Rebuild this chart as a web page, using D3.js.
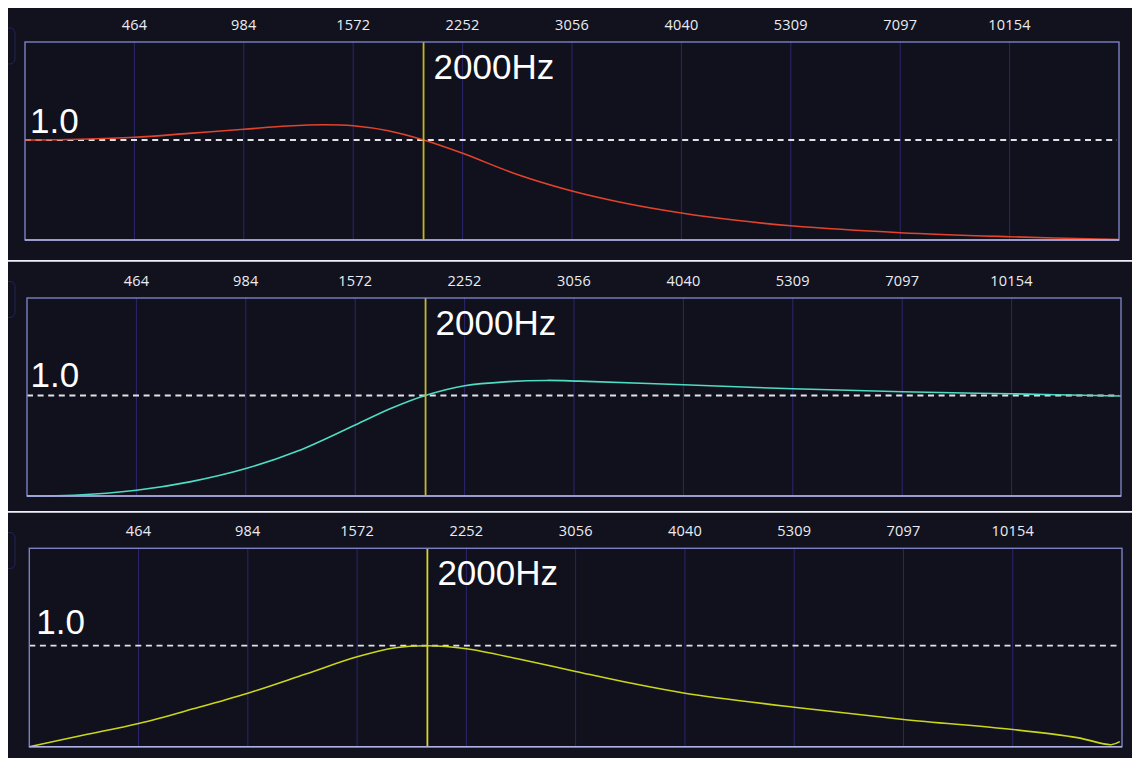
<!DOCTYPE html>
<html>
<head>
<meta charset="utf-8">
<script src="https://cdn.jsdelivr.net/npm/d3@7"></script>
<style>
  html, body { margin: 0; padding: 0; background: #ffffff; }
  svg { display: block; }
</style>
</head>
<body>
<svg id="chart" width="1132" height="758"></svg>
<script>
// ---------- data ----------
const tickLabels = ["464", "984", "1572", "2252", "3056", "4040", "5309", "7097", "10154"];
const tickFreqs  = [464, 984, 1572, 2252, 3056, 4040, 5309, 7097, 10154];
const markerHz   = 2000;
const markerLabel = "2000Hz";
const refValue   = 1.0;
const refLabel   = "1.0";

// positions are in tick-index units (0 = left edge, 1..9 = ticks, 10 = right edge)
const redPos = [0, 0.5, 1, 1.5, 2, 2.4, 2.73, 3, 3.32, 3.645, 4, 4.5, 5, 5.5, 6, 6.5, 7, 8, 9, 10];
const redVal = [1.0, 1.008, 1.027, 1.066, 1.107, 1.14, 1.153, 1.143, 1.093, 1.0, 0.867, 0.655, 0.49, 0.365, 0.27, 0.197, 0.142, 0.073, 0.033, 0.005];

const tealPos = [0, 0.43, 1, 1.5, 2, 2.48, 3, 3.33, 3.64, 4, 4.4, 4.75, 5.05, 6, 7, 8, 9, 10];
const tealVal = [0.0, 0.007, 0.057, 0.143, 0.273, 0.45, 0.707, 0.873, 1.0, 1.097, 1.138, 1.15, 1.143, 1.107, 1.067, 1.037, 1.017, 0.995];

const yellowPos = [0, 0.5, 1, 1.5, 2, 2.53, 3, 3.35, 3.64, 4, 4.49, 5, 5.5, 6, 7, 8, 9, 9.59, 9.9, 9.98];
const yellowVal = [0.0, 0.115, 0.23, 0.375, 0.53, 0.72, 0.89, 0.98, 1.0, 0.97, 0.865, 0.745, 0.63, 0.53, 0.39, 0.27, 0.17, 0.09, 0.02, 0.05];

// ---------- layout ----------
const panels = [
  { y0: 8,     y1: 260,   left: 25,   right: 1119, top: 42,    bottom: 240,   one: 140,
    refDx: 5, refDy: -7, pos: redPos, val: redVal, color: "#e4432b", marker: "#c9b41f" },
  { y0: 261.5, y1: 511,   left: 27,   right: 1121, top: 298,   bottom: 496,   one: 395.5,
    refDx: 3.5, refDy: -8.5, pos: tealPos, val: tealVal, color: "#4fdcc4", marker: "#c8b829" },
  { y0: 512.5, y1: 758,   left: 29.3, right: 1122, top: 548.3, bottom: 746.7, one: 645.7,
    refDx: 7, refDy: -11.5, pos: yellowPos, val: yellowVal, color: "#cbd61a", marker: "#d9d626" }
];

const svg = d3.select("#chart");
svg.append("rect").attr("x", 0).attr("y", 0).attr("width", 1132).attr("height", 758).attr("fill", "#ffffff");

// index scale for tick frequencies -> tick index
const freqToIndex = d3.scaleLinear().domain(tickFreqs).range(d3.range(1, tickFreqs.length + 1));

panels.forEach((p, pi) => {
  const g = svg.append("g");
  // panel background
  g.append("rect").attr("x", 8).attr("y", p.y0).attr("width", 1124).attr("height", p.y1 - p.y0)
    .attr("fill", "#11121e");
  // faint UI artifacts on left edge (inside the panel)
  g.append("path").attr("d", `M8,${p.y0 + 20} h2 a5,5 0 0 1 5,5 v26 a5,5 0 0 1 -5,5 h-2`)
    .attr("fill", "none").attr("stroke", "#20245a").attr("stroke-width", 1);

  const x = d3.scaleLinear().domain([0, 10]).range([p.left, p.right]);
  const y = d3.scaleLinear().domain([0, refValue]).range([p.bottom, p.one]);

  // plot background
  g.append("rect").attr("x", p.left).attr("y", p.top).attr("width", p.right - p.left).attr("height", p.bottom - p.top)
    .attr("fill", "#10111d");

  // grid lines + tick labels
  const idx = d3.range(1, tickLabels.length + 1);
  g.selectAll("line.grid").data(idx).enter().append("line")
    .attr("x1", d => x(d)).attr("x2", d => x(d))
    .attr("y1", p.top).attr("y2", p.bottom)
    .attr("stroke", "#2c2570").attr("stroke-width", 1);

  g.selectAll("text.tick").data(tickLabels).enter().append("text")
    .attr("x", (d, i) => x(i + 1)).attr("y", p.top - 17.5)
    .attr("text-anchor", "middle").attr("dominant-baseline", "central")
    .attr("font-family", "'Open Sans', sans-serif").attr("font-size", 14.5)
    .attr("letter-spacing", 0.2)
    .attr("fill", "#ececf2")
    .text(d => d);

  // reference dashed line
  g.append("line").attr("x1", p.left).attr("x2", p.right - 2)
    .attr("y1", y(refValue)).attr("y2", y(refValue))
    .attr("stroke", "#e2e2e6").attr("stroke-width", 1.8).attr("stroke-dasharray", "6,4.6");

  // curve
  const pts = p.pos.map((u, i) => [u, p.val[i]]);
  const line = d3.line().x(d => x(d[0])).y(d => y(d[1])).curve(d3.curveCatmullRom.alpha(0.5));
  g.append("path").attr("d", line(pts)).attr("fill", "none")
    .attr("stroke", p.color).attr("stroke-width", 1.6);

  // marker line
  const mx = x(freqToIndex(markerHz)) + 1.5;
  g.append("line").attr("x1", mx).attr("x2", mx).attr("y1", p.top).attr("y2", p.bottom)
    .attr("stroke", p.marker).attr("stroke-width", 1.8);

  // border
  g.append("rect").attr("x", p.left).attr("y", p.top).attr("width", p.right - p.left).attr("height", p.bottom - p.top)
    .attr("fill", "none").attr("stroke", "#7c80c2").attr("stroke-width", 1.4);
  g.append("line").attr("x1", p.left).attr("x2", p.right).attr("y1", p.bottom).attr("y2", p.bottom)
    .attr("stroke", "#aeb1e2").attr("stroke-width", 1.6);

  // labels
  g.append("text").attr("x", p.left + p.refDx).attr("y", y(refValue) + p.refDy)
    .attr("font-family", "'Liberation Sans', Arial, sans-serif").attr("font-size", 35)
    .attr("fill", "#ffffff").text(refLabel);
  g.append("text").attr("x", mx + 10).attr("y", p.top + 36.5)
    .attr("font-family", "'Liberation Sans', Arial, sans-serif").attr("font-size", 35)
    .attr("fill", "#ffffff").text(markerLabel);
});

// separators
svg.append("rect").attr("x", 8).attr("y", 260).attr("width", 1124).attr("height", 1.5).attr("fill", "#eeeef8");
svg.append("rect").attr("x", 8).attr("y", 511).attr("width", 1124).attr("height", 1.5).attr("fill", "#eeeef8");
</script>
</body>
</html>
